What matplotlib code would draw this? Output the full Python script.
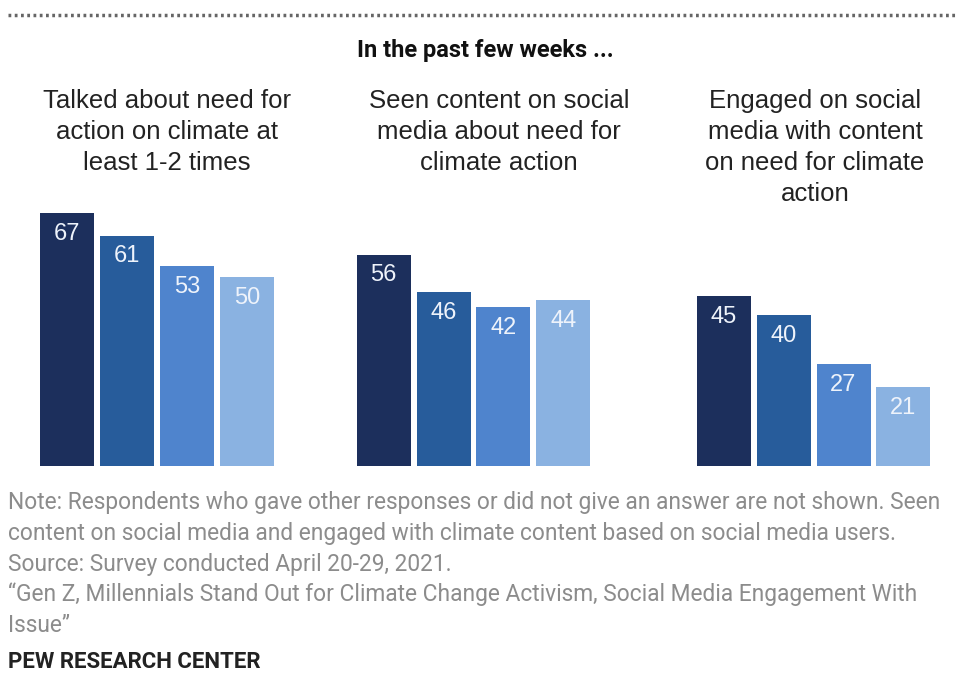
import matplotlib.pyplot as plt
from matplotlib import font_manager

# data
groups = ["Talked about need for\naction on climate at\nleast 1-2 times",
          "Seen content on social\nmedia about need for\nclimate action",
          "Engaged on social\nmedia with content\non need for climate\naction"]
values = [[67, 61, 53, 50],
          [56, 46, 42, 44],
          [45, 40, 27, 21]]
colors = ["#1c2f5c", "#275c9b", "#4f84cd", "#8ab2e1"]

note_lines = [
    "Note: Respondents who gave other responses or did not give an answer are not shown. Seen",
    "content on social media and engaged with climate content based on social media users.",
    "Source: Survey conducted April 20-29, 2021.",
    "\u201cGen Z, Millennials Stand Out for Climate Change Activism, Social Media Engagement With",
    "Issue\u201d",
]

names = {f.name for f in font_manager.fontManager.ttflist}
narrow = "Liberation Sans Narrow" if "Liberation Sans Narrow" in names else "Roboto"

W, H = 961, 675
fig = plt.figure(figsize=(W / 100, H / 100), dpi=100)

def fx(px):
    return px / W

def fy(py):
    return 1 - py / H

# group layout in pixels (left edge of each axes, centre of each title)
lefts = [37, 353.5, 693.5]
title_x = [167, 499, 815]
ax_w = 240
base = 466
ymax = 70
px_per_unit = 3.776

for g in range(3):
    ax = fig.add_axes([fx(lefts[g]), fy(base), fx(ax_w), ymax * px_per_unit / H])
    x = range(len(values[g]))
    ax.bar(x, values[g], width=0.9, color=colors)
    for xi, v in zip(x, values[g]):
        ax.text(xi, v - 2.6, str(v), ha="center", va="top", color="#eef3fb",
                fontsize=17, family="Liberation Sans")
    ax.set_xlim(-0.5, 3.5)
    ax.set_ylim(0, ymax)
    ax.axis("off")
    fig.text(fx(title_x[g]), fy(89), groups[g], ha="center", va="top",
             fontsize=18.5, color="#222222", linespacing=1.37, family="Liberation Sans")

# dotted rule at top
fig.add_artist(plt.Line2D([fx(8), fx(955)], [fy(15), fy(15)], transform=fig.transFigure,
                          color="#666666", linestyle=(0, (0.8, 1.0)), linewidth=2.5))

fig.text(fx(485), fy(50), "In the past few weeks ...", ha="center", va="center",
         fontsize=17, fontweight="bold", color="#111111", family=narrow)

for i, line in enumerate(note_lines):
    fig.text(fx(8), fy(503 + i * 30.5), line, ha="left", va="center",
             fontsize=16.4, color="#8c8c8c", family=narrow)

fig.text(fx(8), fy(662), "PEW RESEARCH CENTER", ha="left", va="center",
         fontsize=16, fontweight="bold", color="#222222", family=narrow)

fig.savefig("out.png", dpi=100, facecolor="white")
